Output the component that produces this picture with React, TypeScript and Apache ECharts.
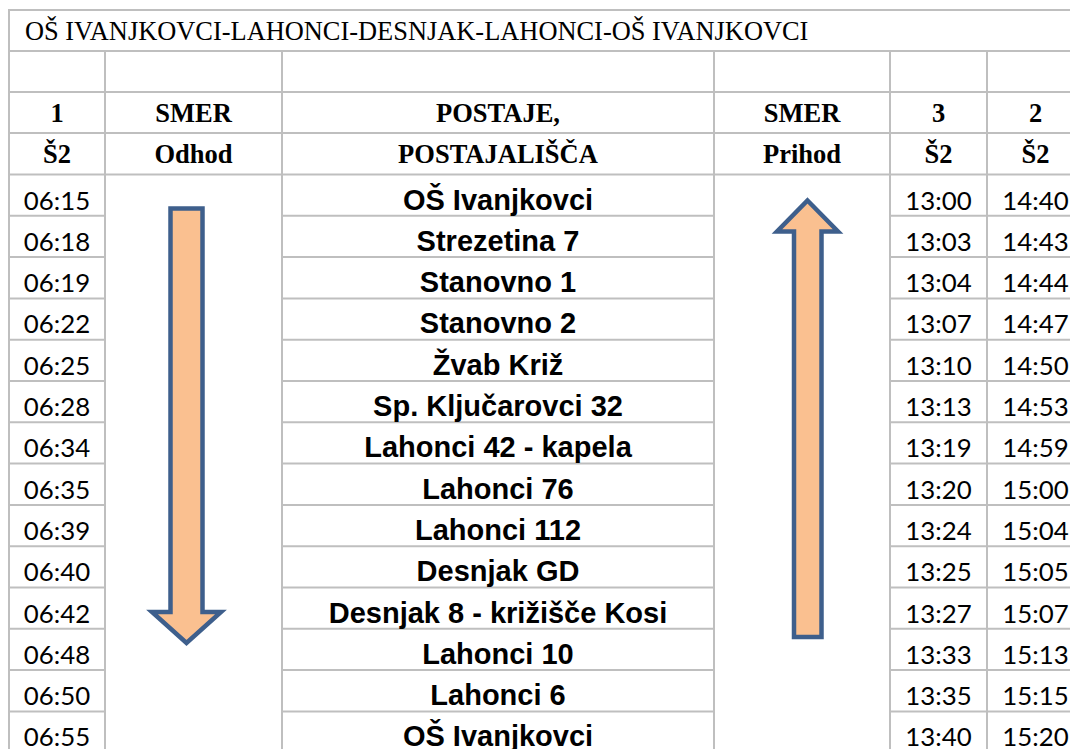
import React, { useEffect, useRef } from "react";
import * as echarts from "echarts";

const TITLE = "OŠ IVANJKOVCI-LAHONCI-DESNJAK-LAHONCI-OŠ IVANJKOVCI";
const HEADER_ROW1 = ["1", "SMER", "POSTAJE,", "SMER", "3", "2"];
const HEADER_ROW2 = ["Š2", "Odhod", "POSTAJALIŠČA", "Prihod", "Š2", "Š2"];
const STATIONS = [
  "OŠ Ivanjkovci",
  "Strezetina 7",
  "Stanovno 1",
  "Stanovno 2",
  "Žvab Križ",
  "Sp. Ključarovci 32",
  "Lahonci 42 - kapela",
  "Lahonci 76",
  "Lahonci 112",
  "Desnjak GD",
  "Desnjak 8 - križišče Kosi",
  "Lahonci 10",
  "Lahonci 6",
  "OŠ Ivanjkovci",
];
const DEPARTURE_1 = ["06:15", "06:18", "06:19", "06:22", "06:25", "06:28", "06:34", "06:35", "06:39", "06:40", "06:42", "06:48", "06:50", "06:55"];
const ARRIVAL_3 = ["13:00", "13:03", "13:04", "13:07", "13:10", "13:13", "13:19", "13:20", "13:24", "13:25", "13:27", "13:33", "13:35", "13:40"];
const ARRIVAL_2 = ["14:40", "14:43", "14:44", "14:47", "14:50", "14:53", "14:59", "15:00", "15:04", "15:05", "15:07", "15:13", "15:15", "15:20"];

const W = 1070;
const H = 749;
const COLS = [9, 105, 282, 714, 890, 987, 1084];
const ROW_TITLE_TOP = 10;
const ROW_EMPTY_TOP = 51;
const ROW_H1_TOP = 92;
const ROW_H2_TOP = 133;
const DATA_TOP = 174.5;
const ROW_H = 41.3;
const GRID = "#BFBFBF";

function buildGraphics() {
  const els: any[] = [];
  const line = (x1: number, y1: number, x2: number, y2: number) =>
    els.push({
      type: "line",
      shape: { x1, y1, x2, y2 },
      style: { stroke: GRID, lineWidth: 2 },
      silent: true,
    });
  const text = (t: string, x: number, y: number, font: any, align = "center") =>
    els.push({
      type: "text",
      x,
      y,
      style: { text: t, align, verticalAlign: "middle", fill: "#000", ...font },
      silent: true,
    });

  // horizontal full lines
  [ROW_TITLE_TOP, ROW_EMPTY_TOP, ROW_H1_TOP, ROW_H2_TOP, DATA_TOP].forEach((y) => line(COLS[0] - 1, y, W, y));
  // data row lines (not in merged SMER columns)
  for (let k = 1; k < STATIONS.length + 1; k++) {
    const y = DATA_TOP + ROW_H * k;
    line(COLS[0], y, COLS[1], y);
    line(COLS[2], y, COLS[3], y);
    line(COLS[4], y, W, y);
  }
  // vertical lines
  line(COLS[0], ROW_TITLE_TOP, COLS[0], H);
  for (let c = 1; c < COLS.length - 1; c++) line(COLS[c], ROW_EMPTY_TOP, COLS[c], H);

  const serif = "'Liberation Serif', 'Times New Roman', serif";
  const centers = COLS.slice(0, -1).map((x, i) => (x + COLS[i + 1]) / 2);

  text(TITLE, 25, 30.5, { fontFamily: serif, fontSize: 26.4 }, "left");
  HEADER_ROW1.forEach((t, i) => text(t, centers[i], 112.5, { fontFamily: serif, fontSize: 26.5, fontWeight: "bold" }));
  HEADER_ROW2.forEach((t, i) => text(t, centers[i], 154, { fontFamily: serif, fontSize: 26.5, fontWeight: "bold" }));

  const timeFont = { fontFamily: "Lato, 'Open Sans', sans-serif", fontSize: 25.8 };
  const stationFont = { fontFamily: "'Liberation Sans', Arial, sans-serif", fontSize: 29, fontWeight: "bold" };
  STATIONS.forEach((s, i) => {
    const y = DATA_TOP + ROW_H * i + 25;
    text(DEPARTURE_1[i], centers[0], y, timeFont);
    text(s, centers[2], y, stationFont);
    text(ARRIVAL_3[i], centers[4], y, timeFont);
    text(ARRIVAL_2[i], centers[5], y, timeFont);
  });

  const arrowStyle = { fill: "#FAC090", stroke: "#3E5F8C", lineWidth: 4.5, lineJoin: "miter" };
  // down arrow (Odhod)
  els.push({
    type: "polygon",
    shape: {
      points: [
        [170.5, 208.5], [202.5, 208.5], [202.5, 612], [221, 612],
        [186.5, 643], [152, 612], [170.5, 612],
      ],
    },
    style: arrowStyle,
    silent: true,
  });
  // up arrow (Prihod)
  els.push({
    type: "polygon",
    shape: {
      points: [
        [807.5, 200.5], [838, 231.5], [821.5, 231.5], [821.5, 637],
        [794, 637], [794, 231.5], [777, 231.5],
      ],
    },
    style: arrowStyle,
    silent: true,
  });
  return els;
}

export default function App() {
  const ref = useRef<HTMLDivElement>(null);
  useEffect(() => {
    if (!ref.current) return;
    const chart = echarts.init(ref.current, null, { renderer: "svg" });
    chart.setOption({
      animation: false,
      backgroundColor: "#ffffff",
      graphic: { elements: buildGraphics() },
    });
    return () => chart.dispose();
  }, []);
  return (
    <div
      ref={ref}
      style={{ position: "absolute", left: 0, top: 0, width: W, height: H, background: "#fff" }}
    />
  );
}
